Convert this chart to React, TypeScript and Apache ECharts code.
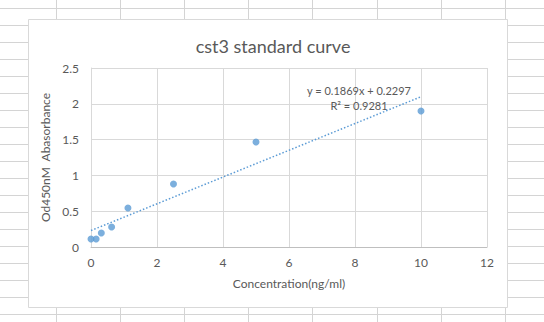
import React, { useEffect, useRef } from "react";
import * as echarts from "echarts";

const chartTitle = "cst3 standard curve";
const xAxisTitle = "Concentration(ng/ml)";
const yAxisTitle = "Od450nM  Abasorbance";
const concentrations = [0, 0.156, 0.3125, 0.625, 1.12, 2.5, 5, 10];
const absorbances = [0.112, 0.112, 0.196, 0.279, 0.545, 0.88, 1.466, 1.9];
const slope = 0.1869;
const intercept = 0.2297;
const rSquared = 0.9281;
const trendXs = [0, 10];

const FONT = "Lato, 'Noto Sans', sans-serif";
const TEXT = "#595959";

export default function App() {
  const ref = useRef<HTMLDivElement>(null);
  useEffect(() => {
    if (!ref.current) return;
    const chart = echarts.init(ref.current, undefined, { renderer: "svg" });
    const bg: any[] = [];
    for (let i = 0; i < 9; i++) {
      const x = Math.round(56 + i * 64.1) + 0.5;
      bg.push({ type: "line", z: -10, silent: true, shape: { x1: x, y1: 0, x2: x, y2: 322 }, style: { stroke: "#D4D4D4", lineWidth: 1 } });
    }
    for (let j = 0; j < 20; j++) {
      const y = Math.round(7.5 + j * 17.05) + 0.5;
      bg.push({ type: "line", z: -10, silent: true, shape: { x1: 0, y1: y, x2: 544, y2: y }, style: { stroke: "#D4D4D4", lineWidth: 1 } });
    }
    bg.push({ type: "rect", z: -5, silent: true, shape: { x: 28.5, y: 19.5, width: 479, height: 288 }, style: { fill: "#fff", stroke: "#D9D9D9", lineWidth: 1 } });
    bg.push({ type: "text", z: 10, style: { text: `y = ${slope}x + ${intercept}`, x: 359, y: 90, align: "center", verticalAlign: "middle", fill: TEXT, font: `11px ${FONT}` } });
    bg.push({ type: "text", z: 10, style: { text: `R² = ${rSquared}`, x: 359, y: 105, align: "center", verticalAlign: "middle", fill: TEXT, font: `11px ${FONT}` } });

    chart.setOption({
      animation: false,
      backgroundColor: "transparent",
      title: {
        text: chartTitle,
        left: 268,
        top: 41,
        textAlign: "center",
        textVerticalAlign: "middle",
        textStyle: { color: TEXT, fontFamily: FONT, fontSize: 18, fontWeight: "normal" },
      },
      graphic: bg,
      grid: { left: 91, right: 57, top: 68, bottom: 75 },
      xAxis: {
        type: "value",
        min: 0,
        max: 12,
        interval: 2,
        name: xAxisTitle,
        nameLocation: "middle",
        nameGap: 30,
        nameTextStyle: { color: TEXT, fontFamily: FONT, fontSize: 12 },
        axisLine: { show: true, onZero: false, lineStyle: { color: "#BFBFBF" } },
        axisTick: { show: false },
        axisLabel: { color: TEXT, fontFamily: FONT, fontSize: 12, margin: 9 },
        splitLine: { show: true, lineStyle: { color: "#D9D9D9" } },
      },
      yAxis: {
        type: "value",
        min: 0,
        max: 2.5,
        interval: 0.5,
        name: yAxisTitle,
        nameLocation: "middle",
        nameGap: 33,
        nameTextStyle: { color: TEXT, fontFamily: FONT, fontSize: 12 },
        axisLine: { show: true, onZero: false, lineStyle: { color: "#D9D9D9" } },
        axisTick: { show: false },
        axisLabel: { color: TEXT, fontFamily: FONT, fontSize: 12, margin: 12 },
        splitLine: { show: true, lineStyle: { color: "#D9D9D9" } },
      },
      series: [
        {
          type: "line",
          data: trendXs.map((x) => [x, slope * x + intercept]),
          showSymbol: false,
          symbol: "none",
          lineStyle: { color: "#5B9BD5", width: 1.5, type: [1.5, 2] },
          silent: true,
          z: 2,
        },
        {
          type: "scatter",
          data: concentrations.map((c, i) => [c, absorbances[i]]),
          symbolSize: 7,
          itemStyle: { color: "#5B9BD5" },
          z: 3,
        },
      ],
    });
    return () => chart.dispose();
  }, []);
  return <div ref={ref} style={{ position: "absolute", left: 0, top: 0, width: 544, height: 322 }} />;
}
